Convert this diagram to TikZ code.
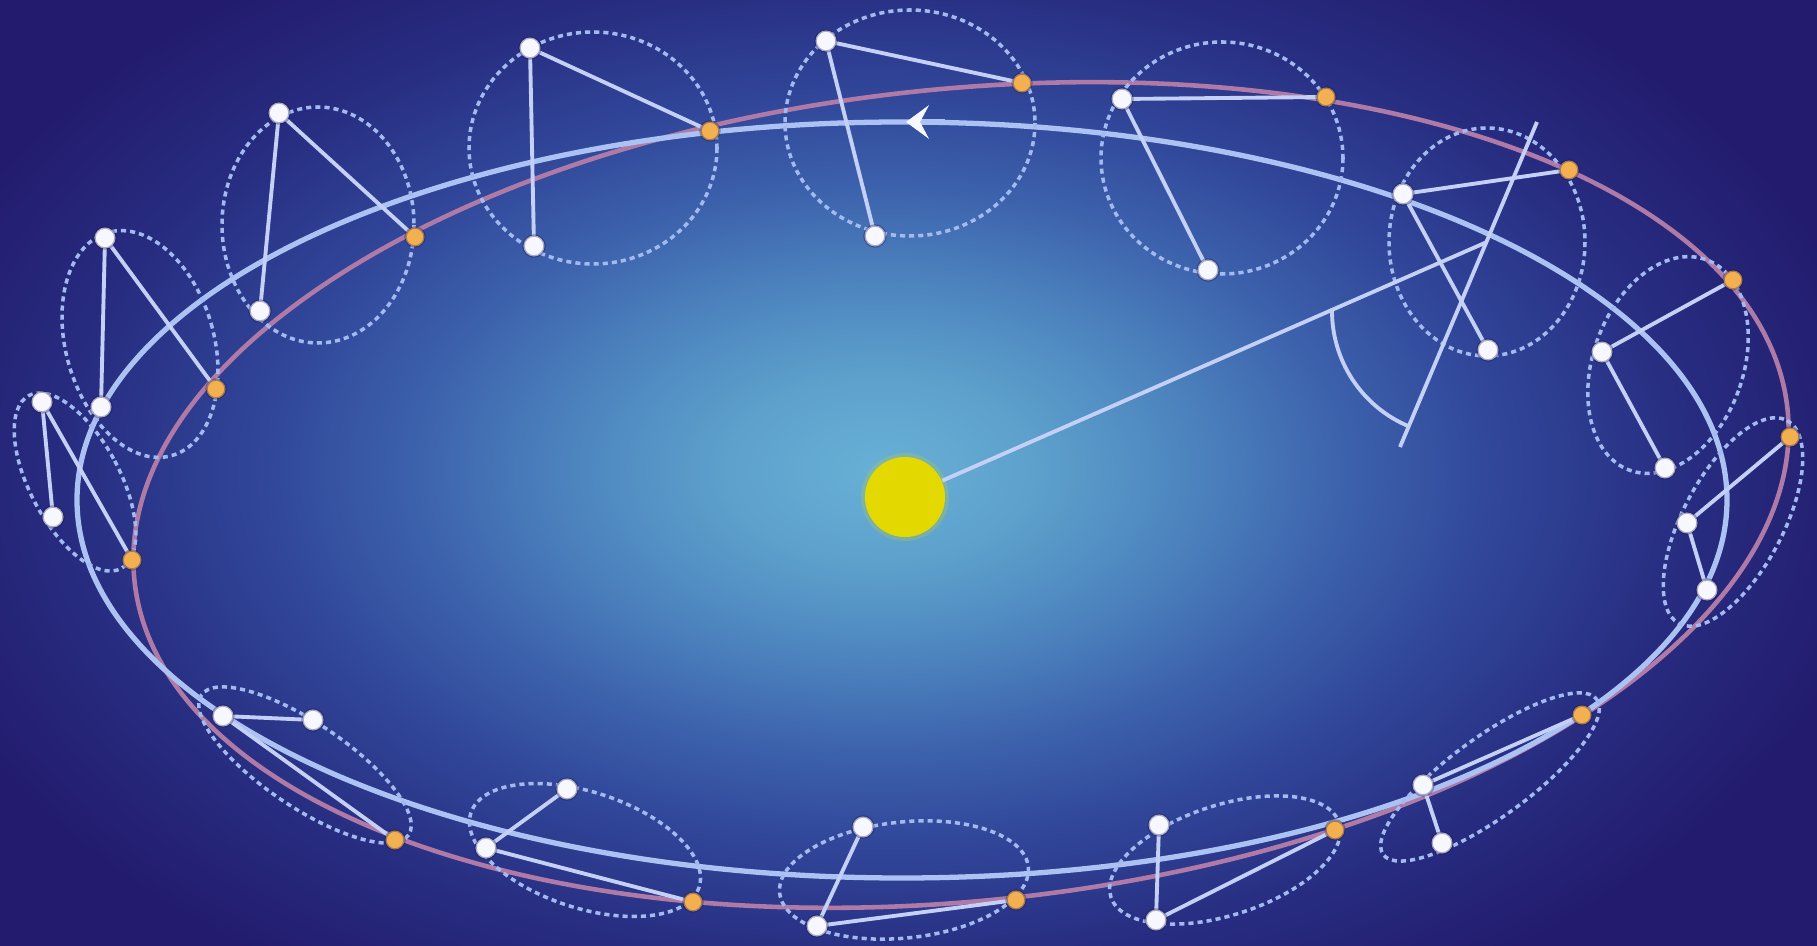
\documentclass[tikz,border=0pt]{standalone}
\usetikzlibrary{arrows.meta}

% palette
\definecolor{bgA}{HTML}{68B0D6}
\definecolor{bgB}{HTML}{5DA1CC}
\definecolor{bgC}{HTML}{4D85BF}
\definecolor{bgD}{HTML}{3D63AD}
\definecolor{bgE}{HTML}{31479A}
\definecolor{bgF}{HTML}{272C80}
\definecolor{bgG}{HTML}{231B6D}
\definecolor{orbitblue}{HTML}{ABC2F2}
\definecolor{orbitpink}{HTML}{B07AA6}
\definecolor{ringblue}{HTML}{A2BAF0}
\definecolor{linkwhite}{HTML}{C4D0F6}
\definecolor{dotwhite}{HTML}{F6F7FF}
\definecolor{dotorange}{HTML}{F2B050}
\definecolor{dotrim}{HTML}{1C1650}
\definecolor{sunyellow}{HTML}{E3D900}

\pgfdeclareradialshading{bgglow}{\pgfpoint{0bp}{0bp}}{%
  color(0bp)=(bgA); color(3.75bp)=(bgB); color(7.5bp)=(bgC);
  color(11.25bp)=(bgD); color(15bp)=(bgE); color(20bp)=(bgF);
  color(25bp)=(bgG); color(50bp)=(bgG)}

\tikzset{
  orbitline/.style={draw=orbitblue, line width=1.5pt},
  pinkorbit/.style={draw=orbitpink, line width=1.3pt},
  moonring/.style={draw=ringblue, line width=1pt, dash pattern=on 1.45pt off 1.15pt},
  linkline/.style={draw=linkwhite, line width=1.1pt},
  whitedot/.style={circle, inner sep=0pt, minimum size=0.21cm, fill=dotwhite,
    draw=dotrim, draw opacity=0.35, line width=0.7pt},
  orangedot/.style={circle, inner sep=0pt, minimum size=0.19cm, fill=dotorange,
    draw=dotrim, draw opacity=0.35, line width=0.7pt},
  sunball/.style={circle, inner sep=0pt, minimum size=0.8cm, fill=sunyellow},
  sunhalo/.style={circle, inner sep=0pt, minimum size=0.88cm, fill=sunyellow, fill opacity=0.2},
}

% group / orange / white A / white B / ring centre / ring radii / ring tilt
\def\groups{%
  1/216/389/105/238/101/407/140/344/74/116/16,
  2/415/237/279/113/260/311/318/225/96/118/0,
  3/710/131/530/48/534/246/593/148/124/116/0,
  4/1022/83/826/41/875/236/910/123/125/113/0,
  5/1326/97/1122/99/1208/270/1222/158/121/116/0,
  6/1569/170/1403/194/1488/350/1487/242/98/114/0,
  7/1733/280/1602/352/1665/468/1668/365/75/112/-20,
  8/1790/437/1687/523/1707/590/1733/522/115/50/62,
  9/1582/715/1423/785/1442/843/1490/777/132/40/36,
  10/1335/830/1156/920/1159/825/1225/860/120/55/18,
  11/1016/900/817/926/863/827/904/880/125/58/6,
  12/693/902/486/848/567/789/585/850/120/58/-18,
  13/395/840/223/716/313/720/305/765/125/42/-34,
  14/132/560/42/402/53/517/75/482/45/98/28}

\begin{document}
\begin{tikzpicture}[x=0.01cm, y=-0.01cm]
\useasboundingbox (0,0) rectangle (1817,946);

% night-blue backdrop with a soft glow round the centre
\begin{scope}
  \clip (0,0) rectangle (1817,946);
  \fill[bgG] (0,0) rectangle (1817,946);
  \shade[shading=bgglow] (880,470) ellipse [x radius=1020, y radius=620];
\end{scope}

% named points of every group
\foreach \i/\ox/\oy/\ax/\ay/\bx/\by/\cx/\cy/\rx/\ry/\rot in \groups {
  \coordinate (o\i) at (\ox,\oy);
  \coordinate (a\i) at (\ax,\ay);
  \coordinate (b\i) at (\bx,\by);
  \coordinate (c\i) at (\cx,\cy);
}
\coordinate (pinkc) at (961,495);
\coordinate (bluec) at (902,500);

% the two orbits
\draw[pinkorbit, rotate around={5.9:(pinkc)}] (pinkc) ellipse [x radius=831, y radius=406];
\draw[orbitline] (bluec) ellipse [x radius=825, y radius=378];

% dashed rings round each centre
\foreach \i/\ox/\oy/\ax/\ay/\bx/\by/\cx/\cy/\rx/\ry/\rot in \groups {
  \draw[moonring, rotate around={\rot:(c\i)}] (c\i) ellipse [x radius=\rx, y radius=\ry];
}

% links inside each group
\foreach \i/\ox/\oy/\ax/\ay/\bx/\by/\cx/\cy/\rx/\ry/\rot in \groups {
  \draw[linkline] (a\i) -- (o\i);
  \draw[linkline] (a\i) -- (b\i);
}

% sun, radius line, axis line and the angle arc between them
\node[sunhalo] (sunglow) at (905,497) {};
\node[sunball] (sun) at (905,497) {};
\coordinate (axistop) at (1537,122);
\coordinate (axisbot) at (1400,447);
\coordinate (arcc) at (1457,311);
\draw[linkline] (sun) -- (c6);
\draw[linkline] (axistop) -- (axisbot);
\draw[linkline] (arcc) ++(180.5:125) arc[start angle=180.5, end angle=112.9, radius=125];

% direction of motion
\coordinate (arrtail) at (945,122);
\coordinate (arrhead) at (906,122);
\draw[orbitline, -{Stealth[length=6.5pt, width=9.5pt, inset=2.5pt, color=dotwhite, fill=dotwhite]}] (arrtail) -- (arrhead);

% bodies
\foreach \i/\ox/\oy/\ax/\ay/\bx/\by/\cx/\cy/\rx/\ry/\rot in \groups {
  \node[orangedot] (dotO\i) at (o\i) {};
  \node[whitedot] (dotA\i) at (a\i) {};
  \node[whitedot] (dotB\i) at (b\i) {};
}
\end{tikzpicture}
\end{document}
